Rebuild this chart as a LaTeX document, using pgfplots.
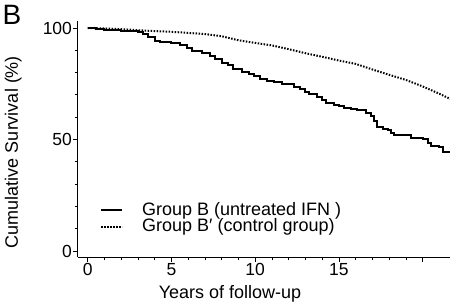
\documentclass[border=0pt]{standalone}
\usepackage{fontspec}
\setmainfont{Liberation Sans}
\usepackage{pgfplots}
\pgfplotsset{compat=1.18}
\pgfplotstableread{
x y
0 100
0.5 99.5
1.0 99.2
1.5 98.9
2.0 98.7
2.5 98.5
3.0 98.3
3.3 97.2
3.6 95.8
4.0 94.2
4.3 93.5
5.0 93.2
5.5 92.4
5.9 91.2
6.2 89.8
6.8 88.8
7.3 87.5
7.6 86.0
8.0 84.5
8.4 83.2
8.7 81.6
9.2 80.4
9.6 79.5
9.9 78.5
10.3 77.1
10.7 76.2
11.1 75.6
11.6 75.1
12.0 74.7
12.3 73.7
12.7 72.6
13.0 71.5
13.2 70.4
13.7 68.9
14.0 67.6
14.2 66.5
14.7 65.5
15.0 65.0
15.3 64.0
15.7 63.6
16.1 63.2
16.6 62.0
16.9 60.5
17.1 58.5
17.3 55.5
17.6 54.6
17.9 54.3
18.1 53.0
18.3 52.0
19.2 51.9
19.3 50.5
20.0 50.2
20.3 48.5
20.5 47.1
21.0 46.5
21.2 44.5
21.7 44.5
}\groupB
\pgfplotstableread{
x y
0 100
1 99.8
2 99.5
3 99.0
4 98.6
5 98.3
6 97.8
7 97.3
8 96.3
9 94.5
10 93.3
11 92.2
12 90.5
13 88.7
14 87.1
15 85.4
16 83.9
17 81.4
18 79.0
19 76.7
20 73.8
21 70.5
21.7 68.0
}\groupBp
\begin{document}
\fontsize{18bp}{20bp}\selectfont
\begin{tikzpicture}
\useasboundingbox (-87.7bp,-53bp) rectangle (362.3bp,251bp);
\begin{axis}[
  at={(0,0)}, anchor=origin,
  x=16.75bp, y=2.23bp,
  xmin=-0.6, xmax=22.5, ymin=-2.9, ymax=103.1,
  enlargelimits=false,
  axis lines=left,
  axis line style={-, line width=0.9bp, black},
  tick align=outside,
  major tick length=4.5bp, minor tick length=3bp,
  every tick/.style={black, line width=0.8bp},
  xtick={0,5,10,15,20}, xticklabels={0,5,10,15,},
  minor x tick num=4,
  ytick={0,50,100}, yticklabels={0,50,100},
  minor y tick num=4,
  /pgf/number format/assume math mode=true,
  ticklabel style={font=\fontsize{17.5bp}{19bp}\selectfont, inner sep=1bp},
  xlabel={Years of follow-up},
  ylabel={Cumulative Survival (\%)},
  x label style={at={(axis cs:8.5,-19.2)}, anchor=center, font=\fontsize{18bp}{20bp}\selectfont},
  y label style={at={(axis cs:-4.45,44.4)}, anchor=center, font=\fontsize{18bp}{20bp}\selectfont},
  clip=false,
  legend cell align=left,
  legend image code/.code={\draw[#1] (0bp,0bp) -- (21bp,0bp);},
  legend style={draw=none, fill=none, at={(axis cs:0.73,22.9)}, anchor=north west,
    font=\fontsize{18bp}{20bp}\selectfont, inner sep=0pt, row sep=-3bp,
    /tikz/every odd column/.append style={column sep=17bp}},
]
\addplot[const plot, black, line width=2bp] table[x=x,y=y]{\groupB};
\addlegendentry{Group B (untreated IFN )}
\addplot[black, line width=2bp, dash pattern=on 1.5bp off 1.5bp] table[x=x,y=y]{\groupBp};
\addlegendentry{Group B′ (control group)}
\end{axis}
\node[font=\fontsize{28bp}{30bp}\selectfont, anchor=center] at (-75.7bp,236bp) {B};
\end{tikzpicture}
\end{document}
